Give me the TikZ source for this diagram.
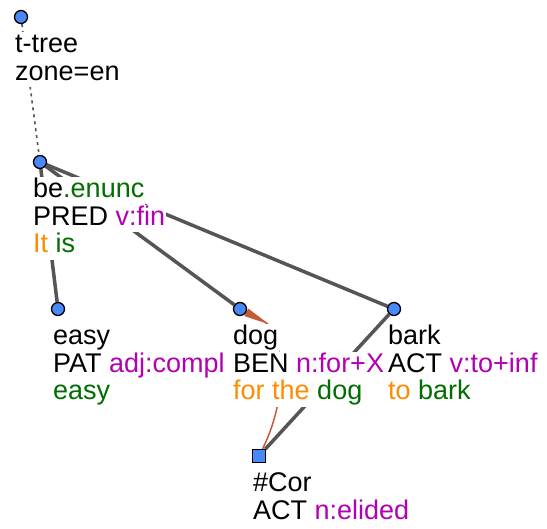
\documentclass[tikz,border=0pt]{standalone}
\usepackage{fontspec}
\setmainfont{Liberation Sans}
\usetikzlibrary{arrows.meta}
\definecolor{edgegray}{HTML}{555555}
\definecolor{nodeblue}{HTML}{4A88F8}
\definecolor{corefc}{HTML}{C65A32}
\definecolor{tgreen}{HTML}{006E00}
\definecolor{tmag}{HTML}{B400B4}
\definecolor{torange}{HTML}{FF8C00}
\pgfdeclarelayer{bg}
\pgfdeclarelayer{mid}
\pgfsetlayers{bg,mid,main}
\begin{document}
\begin{tikzpicture}[x=1pt,y=-1pt,
  tnode/.style={circle,draw=black,line width=1.3pt,fill=nodeblue,minimum size=13pt,inner sep=0pt},
  cnode/.style={rectangle,draw=black,line width=1.3pt,fill=nodeblue,minimum size=12.5pt,inner sep=0pt},
  edge/.style={draw=edgegray,line width=3.5pt},
  rootedge/.style={draw=edgegray,line width=1.6pt,dash pattern=on 3pt off 4pt},
  coref/.style={draw=corefc,line width=1.5pt,-{Triangle[reversed,length=26pt,width=8pt]}},
  lbl/.style={anchor=base west,fill=white,inner xsep=1pt,inner ysep=0pt,text height=20.5pt,text depth=7pt,font=\fontsize{27}{27.5}\selectfont}]
\useasboundingbox (0,0) rectangle (547,529);
% nodes
\node[tnode] (root) at (21,17) {};
\node[tnode] (be) at (40,162) {};
\node[tnode] (easy) at (58,309) {};
\node[tnode] (dog) at (240,309) {};
\node[tnode] (bark) at (394,309) {};
\node[cnode] (cor) at (259,456) {};
% edges
\begin{pgfonlayer}{bg}
\draw[rootedge] (root) -- (be);
\draw[edge] (be) -- (easy);
\draw[edge] (be) -- (dog);
\draw[edge] (be) -- (bark);
\draw[edge] (bark) -- (cor);
\draw[coref] (cor) .. controls (292,390) and (280,330) .. (dog);
\end{pgfonlayer}
% labels
\begin{pgfonlayer}{mid}
\node[lbl] (r1) at (14,53) {t-tree};
\node[lbl] (r2) at (14,80.5) {zone=en};
\node[lbl] (b1) at (32,198) {be\textcolor{tgreen}{.enunc}};
\node[lbl] (b2) at (32,225.5) {PRED \textcolor{tmag}{v:fin}};
\node[lbl] (b3) at (32,253) {\textcolor{torange}{It} \textcolor{tgreen}{is}};
\node[lbl] (e1) at (52,345) {easy};
\node[lbl] (e2) at (52,372.5) {PAT \textcolor{tmag}{adj:compl}};
\node[lbl] (e3) at (52,400) {\textcolor{tgreen}{easy}};
\node[lbl] (d1) at (232,345) {dog};
\node[lbl] (d2) at (232,372.5) {BEN \textcolor{tmag}{n:for+X}};
\node[lbl] (d3) at (232,400) {\textcolor{torange}{for the} \textcolor{tgreen}{dog}};
\node[lbl] (k1) at (387,345) {bark};
\node[lbl] (k2) at (387,372.5) {ACT \textcolor{tmag}{v:to+inf}};
\node[lbl] (k3) at (387,400) {\textcolor{torange}{to} \textcolor{tgreen}{bark}};
\node[lbl] (c1) at (252,492) {\#Cor};
\node[lbl] (c2) at (252,519.5) {ACT \textcolor{tmag}{n:elided}};
\end{pgfonlayer}
\end{tikzpicture}
\end{document}
